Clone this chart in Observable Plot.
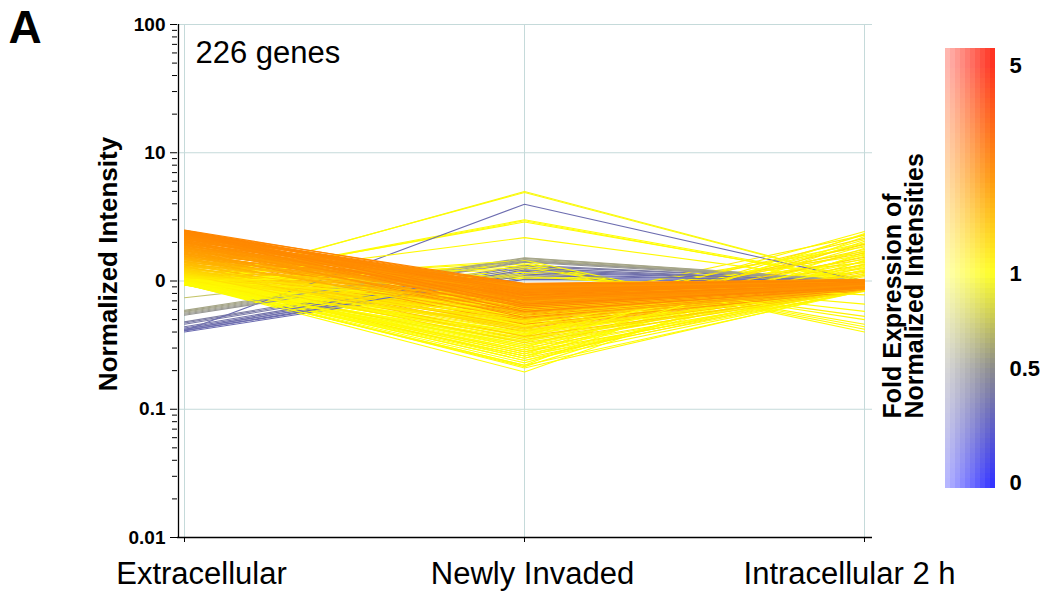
<!DOCTYPE html>
<html>
<head>
<meta charset="utf-8">
<script src="https://cdn.jsdelivr.net/npm/d3@7"></script>
<script src="https://cdn.jsdelivr.net/npm/@observablehq/plot@0.6"></script>
<style>
  body { margin: 0; background: #fff; }
  #wrap { position: relative; width: 1053px; height: 593px; overflow: hidden; }
  #wrap svg { display: block; }
  #legend { position: absolute; left: 870px; top: 0; }
</style>
</head>
<body>
<div id="wrap"><div id="main"></div><div id="legend"></div></div>
<script>
// ---------- data ----------
const conditions = ["Extracellular", "Newly Invaded", "Intracellular 2 h"];

const extracellular = [
  2.50,2.48,2.47,2.45,2.44,2.42,2.41,2.39,2.37,2.36,
  2.34,2.33,2.31,2.29,2.28,2.26,2.25,2.23,2.21,2.20,
  2.18,2.17,2.15,2.13,2.12,2.10,2.09,2.07,2.05,2.04,
  2.02,2.01,1.99,1.97,1.96,1.94,1.93,1.91,1.90,1.88,
  1.86,1.85,1.83,1.82,1.80,1.79,1.77,1.76,1.74,1.73,
  1.71,1.70,1.68,1.67,1.65,1.64,1.62,1.61,1.60,1.58,
  1.57,1.55,1.54,1.53,1.51,1.50,1.48,1.47,1.46,1.44,
  1.43,1.42,1.40,1.39,1.38,1.36,1.35,1.34,1.33,1.31,
  1.30,1.29,1.28,1.26,1.25,1.24,1.23,1.22,1.21,1.20,
  1.19,1.18,1.17,1.16,1.15,1.14,1.13,1.12,1.11,1.10,
  1.09,1.08,1.07,1.07,1.06,1.05,1.04,1.04,1.03,1.02,
  1.01,1.01,1.00,0.99,0.99,0.98,0.97,0.97,0.96,0.95,
  0.95,0.94,0.94,0.93,0.96,1.00,1.03,0.98,1.06,0.94,
  2.46,2.38,2.30,2.22,2.14,2.06,1.98,1.89,1.81,1.72,
  1.63,1.56,1.49,1.41,1.34,1.27,1.21,
  1.00,0.97,1.05,0.95,1.10,0.99,1.02,0.94,1.15,0.98,
  1.03,0.96,1.08,1.01,0.95,1.12,0.99,1.04,0.97,1.20,
  0.98,1.06,0.94,1.01,1.09,0.96,1.13,1.00,0.95,1.02,
  1.07,0.99,0.96,1.04,1.18,0.97,1.01,0.93,1.11,1.00,
  1.05,0.98,1.14,0.95,1.02,
  0.97,1.00,0.95,1.02,0.98,1.04,0.96,0.99,1.01,0.94,
  0.92,0.94,0.96,0.95,0.97,0.99,
  0.74,0.59,0.58,0.57,0.56,0.55,0.54,0.48,0.47,0.46,
  0.44,0.43,0.42,0.42,0.41,0.41,0.40,0.41
];

const newlyInvaded = [
  0.92,0.85,0.78,0.95,0.70,0.88,0.81,0.66,0.93,0.74,
  0.86,0.62,0.90,0.77,0.83,0.69,0.94,0.58,0.80,0.87,
  0.73,0.91,0.64,0.84,0.76,0.96,0.55,0.82,0.89,0.68,
  0.79,0.60,0.88,0.72,0.93,0.52,0.85,0.67,0.81,0.75,
  0.90,0.63,0.78,0.86,0.57,0.70,0.92,0.66,0.83,0.49,
  0.74,0.87,0.61,0.80,0.54,0.69,0.91,0.46,0.77,0.64,
  0.84,0.58,0.72,0.43,0.88,0.65,0.51,0.79,0.68,0.94,
  0.56,0.75,0.40,0.82,0.62,0.70,0.48,0.86,0.59,0.66,
  0.44,0.78,0.53,0.71,0.37,0.64,0.83,0.50,0.60,0.42,
  0.69,0.35,0.57,0.80,0.46,0.63,0.33,0.73,0.52,0.41,
  0.61,0.30,0.48,0.76,0.39,0.55,0.67,0.28,0.45,0.58,
  0.36,0.70,0.26,0.50,0.62,0.32,0.44,0.24,0.54,0.38,
  0.29,0.47,0.22,0.34,0.26,0.27,0.31,0.21,0.25,0.40,
  0.81,0.89,0.72,0.85,0.79,0.90,0.71,0.84,0.76,0.81,
  0.73,0.80,0.61,0.77,0.69,0.56,0.65,
  0.45,0.30,0.62,0.22,0.51,0.38,0.27,0.58,0.42,0.33,
  0.70,0.25,0.48,0.36,0.195,0.55,0.29,0.66,0.40,0.47,
  0.34,0.60,0.26,0.44,0.73,0.31,0.52,0.39,0.23,0.57,
  0.49,0.28,0.35,0.64,0.43,0.24,0.54,0.32,0.68,0.41,
  0.37,0.46,0.59,0.215,0.50,
  1.45,1.40,1.36,1.31,1.27,1.22,1.17,1.12,1.08,1.05,
  4.98,4.90,3.00,2.95,2.88,2.18,
  1.45,1.52,1.50,1.47,1.44,1.42,1.40,1.33,1.30,1.26,
  1.22,1.19,1.16,1.13,1.10,1.06,1.03,3.97
];

const intracellular2h = [
  0.96,0.93,0.98,1.00,0.91,0.95,0.97,0.89,1.02,0.94,
  0.97,0.90,0.99,0.93,0.96,0.92,1.01,0.88,0.95,0.98,
  0.94,1.00,0.91,0.96,0.93,1.03,0.87,0.95,0.99,0.92,
  0.96,0.89,0.98,0.93,1.00,0.86,0.97,0.92,0.95,0.94,
  0.99,0.90,0.94,0.97,0.88,0.92,1.01,0.91,0.96,0.85,
  0.93,0.98,0.90,0.95,0.87,0.92,1.00,0.84,0.94,0.90,
  0.97,0.89,0.93,0.86,0.99,0.91,0.88,0.95,0.92,1.02,
  0.88,0.94,0.85,0.96,0.90,0.93,0.87,0.98,0.89,0.92,
  0.86,0.95,0.89,0.93,0.84,0.91,0.97,0.88,0.90,0.85,
  0.93,0.86,0.90,0.96,0.87,0.92,0.84,0.94,0.89,0.86,
  0.91,0.85,0.88,0.95,0.87,0.90,0.93,0.83,0.88,0.92,
  0.86,0.94,0.84,0.89,0.92,0.87,0.90,0.85,0.91,0.88,
  0.86,0.90,0.84,0.88,0.93,0.89,0.91,0.86,0.90,0.87,
  0.95,0.97,0.92,0.96,0.94,0.98,0.91,0.96,0.93,0.95,
  0.94,0.96,0.90,0.95,0.93,0.89,0.92,
  2.43,2.35,2.28,2.22,2.15,2.10,2.04,1.98,1.93,1.88,
  1.84,1.80,1.76,1.72,1.68,1.65,1.62,1.59,1.56,1.53,
  1.50,1.47,1.44,1.42,1.39,1.36,1.34,1.32,1.30,1.27,
  1.25,1.23,1.21,1.19,1.17,1.15,1.13,1.11,1.10,1.08,
  2.30,1.95,1.70,1.45,1.20,
  0.40,0.42,0.44,0.46,0.50,0.53,0.58,0.66,0.78,0.86,
  1.00,0.99,1.01,0.98,1.00,0.97,
  1.00,1.01,1.00,0.99,1.00,1.01,0.99,1.00,1.01,0.99,
  1.00,1.00,1.01,0.99,1.00,1.00,0.99,1.00
];

const yTicks = [0.01, 0.1, 1, 10, 100];
const yTickLabels = ["0.01", "0.1", "0", "10", "100"];
const legendTicks = [0, 0.5, 1, 5];
const legendTickLabels = ["0", "0.5", "1", "5"];
const legendTitle = "Fold Expression of\nNormalized Intensities";

// ---------- table (drawing order: interleaved, higher folds tending to lie on top) ----------
const n = extracellular.length;
const drawKey = i => ((i * 61) % n) / n * 0.5 + Math.max(0, Math.min(1, (extracellular[i] - 0.9) / 1.4)) * 0.5;
const order = d3.range(n).sort((a, b) => drawKey(a) - drawKey(b));
const rows = order.flatMap(i => [
  {gene: i, condition: conditions[0], value: extracellular[i], fold: extracellular[i]},
  {gene: i, condition: conditions[1], value: newlyInvaded[i], fold: extracellular[i]},
  {gene: i, condition: conditions[2], value: intracellular2h[i], fold: extracellular[i]}
]);
const minorTicks = yTicks.slice(0, -1).flatMap(t => [2,3,4,5,6,7,8,9].map(k => +(t * k).toPrecision(3)));

const FONT = "'Liberation Sans', Arial, Helvetica, sans-serif";
const GRID = "#c5dada";

const labelShift = [17, 8, -15];

const main = Plot.plot({
  width: 1053, height: 593,
  marginTop: 24, marginBottom: 56, marginLeft: 177, marginRight: 181,
  style: {fontFamily: FONT, background: "white", overflow: "visible", color: "black"},
  x: {type: "point", domain: conditions, padding: 0, insetLeft: 6, insetRight: 8},
  y: {type: "log", domain: [0.01, 100]},
  color: {
    type: "linear",
    domain: [0.40, 0.47, 0.57, 0.74, 0.95, 1.05, 1.3, 1.6, 2.0, 2.5],
    range: ["#6a6ab0", "#7a7aa6", "#a2a28a", "#c4c468", "#ffff00", "#fff000", "#ffc400", "#ffa200", "#ff9000", "#ff8600"],
    clamp: true
  },
  marks: [
    Plot.gridY(yTicks, {stroke: GRID, strokeOpacity: 1}),
    Plot.gridX(conditions, {stroke: GRID, strokeOpacity: 1}),
    Plot.line(rows, {x: "condition", y: "value", z: "gene", stroke: "fold", strokeWidth: 1.1}),
    Plot.ruleY([0.01], {stroke: "black", strokeWidth: 1.3}),
    Plot.ruleX([conditions[0]], {stroke: "black", strokeWidth: 1.3, dx: -6}),
    Plot.axisY(minorTicks, {tickSize: 5, tickFormat: () => "", label: null}),
    Plot.axisY(yTicks, {tickSize: 7, tickPadding: 5, tickFormat: d => yTickLabels[yTicks.indexOf(d)],
      label: null, fontSize: 19, fontWeight: "bold"}),
    Plot.axisX(conditions, {tickSize: 5, tickFormat: () => "", label: null}),
    ...conditions.map((c, i) => Plot.text([c], {x: d => d, frameAnchor: "bottom", lineAnchor: "top",
      dy: 24, dx: labelShift[i], fontSize: 31, fill: "black"})),
    Plot.text([`${extracellular.length} genes`], {frameAnchor: "top-left", textAnchor: "start",
      lineAnchor: "top", dx: 18, dy: 16, fontSize: 31, fill: "black"}),
    Plot.text(["Normalized Intensity"], {frameAnchor: "left", rotate: -90, textAnchor: "middle",
      lineAnchor: "middle", dx: -69, dy: -17, fontSize: 26, fontWeight: "bold", fill: "black"}),
    Plot.text(["A"], {frameAnchor: "top-left", textAnchor: "start", lineAnchor: "top",
      dx: -169, dy: -14, fontSize: 46, fontWeight: "bold", fill: "black"})
  ]
});
document.getElementById("main").appendChild(main);

// ---------- legend ----------
const legendRange = [482, 368, 273, 65];
const ly = d3.scaleLinear().domain(legendTicks).range(legendRange);
const rampEdges = d3.range(48, 488, 5);
const rampCols = d3.range(10).map(c => c / 10);
const ramp = rampEdges.flatMap(p => {
  const lo = ly.invert(Math.min(p + 5, 488)), hi = ly.invert(p), mid = ly.invert(p + 2.5);
  return rampCols.map(c => ({lo, hi, mid, c0: c, c1: c + 0.1, op: 0.36 + 0.64 * (c / 0.9)}));
});

const legend = Plot.plot({
  width: 183, height: 593,
  marginTop: 0, marginBottom: 0, marginLeft: 0, marginRight: 0,
  style: {fontFamily: FONT, background: "transparent", overflow: "visible", color: "black"},
  x: {type: "linear", domain: [0, 1], range: [75, 125], axis: null},
  y: {type: "linear", domain: legendTicks, range: legendRange, axis: null},
  color: {type: "linear", domain: [0, 0.5, 1, 2.8, 5],
    range: ["#3434ff", "#8c8c8c", "#ffff22", "#ff9a10", "#ff3422"], clamp: true},
  opacity: {type: "identity"},
  marks: [
    Plot.rect(ramp, {x1: "c0", x2: "c1", y1: "lo", y2: "hi", fill: "mid", fillOpacity: "op",
      shapeRendering: "crispEdges"}),
    Plot.text(legendTicks, {y: d => d, text: d => legendTickLabels[legendTicks.indexOf(d)],
      frameAnchor: "left", dx: 139, textAnchor: "start", fontSize: 22, fontWeight: "bold", fill: "black"}),
    Plot.text([legendTitle], {frameAnchor: "top-left", dx: 34, dy: 418, rotate: -90, textAnchor: "start",
      lineAnchor: "middle", lineHeight: 0.88, fontSize: 25, fontWeight: "bold", fill: "black"})
  ]
});
document.getElementById("legend").appendChild(legend);
</script>
</body>
</html>
